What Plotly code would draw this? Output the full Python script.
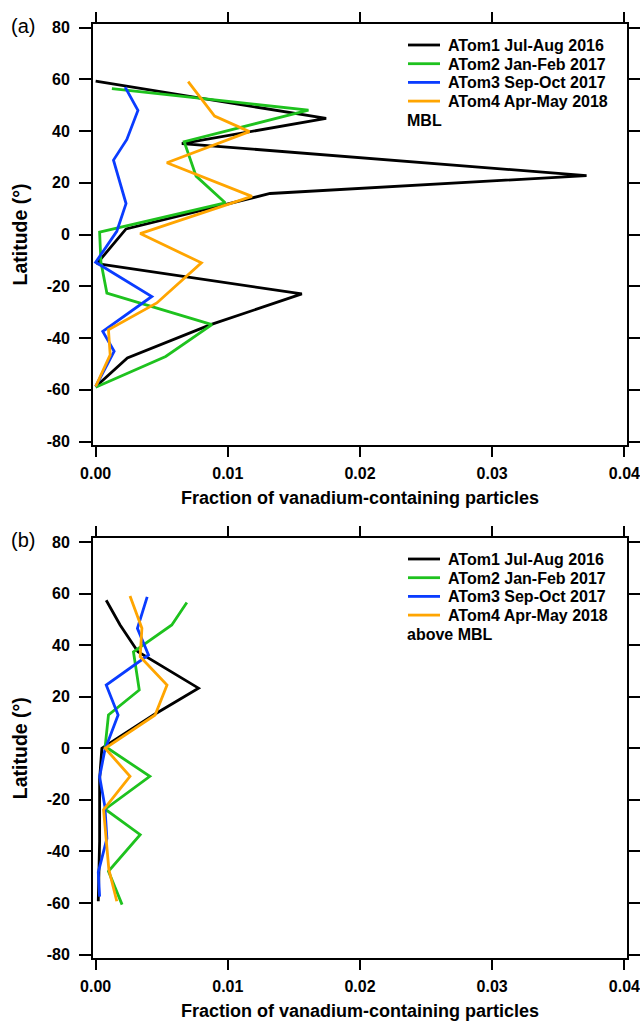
import plotly.graph_objects as go

# ---------------- data ----------------
series_names = ["ATom1 Jul-Aug 2016", "ATom2 Jan-Feb 2017", "ATom3 Sep-Oct 2017", "ATom4 Apr-May 2018"]
series_colors = ["#000000", "#1EC21E", "#0A3CFF", "#FFA500"]

# Panel (a): MBL
mbl_atom1_x = [0.0000, 0.01744, 0.00652, 0.03714, 0.0132, 0.0023, 0.0001, 0.0156, 0.0087, 0.0024, 0.0000]
mbl_atom1_y = [59.3, 44.9, 35.2, 22.8, 15.9, 2.2, -11.2, -22.9, -34.8, -47.7, -58.8]
mbl_atom2_x = [0.00123, 0.0161, 0.0067, 0.0076, 0.0098, 0.0003, 0.0004, 0.00085, 0.0088, 0.0053, 0.0000]
mbl_atom2_y = [56.4, 48.1, 35.9, 22.6, 12.3, 1.0, -10.6, -22.6, -34.8, -47.1, -59.0]
mbl_atom3_x = [0.00223, 0.0032, 0.00236, 0.00135, 0.0023, 0.0016, 0.0000, 0.00425, 0.00054, 0.0014, 0.0000]
mbl_atom3_y = [57.0, 48.0, 36.8, 28.8, 12.0, 1.3, -10.7, -23.9, -37.4, -45.1, -58.7]
mbl_atom4_x = [0.0070, 0.0090, 0.01163, 0.00539, 0.01182, 0.00337, 0.0080, 0.00463, 0.00097, 0.0011, 0.0000]
mbl_atom4_y = [59.1, 45.8, 39.8, 27.8, 14.8, 0.4, -10.9, -26.4, -36.8, -46.5, -58.7]

# Panel (b): above MBL
abv_atom1_x = [0.0008, 0.00185, 0.0032, 0.00778, 0.00437, 0.00047, 0.0003, 0.0003, 0.0002]
abv_atom1_y = [57.4, 47.8, 37.4, 23.3, 12.9, 0.0, -12.0, -36.0, -59.3]
abv_atom2_x = [0.0069, 0.00576, 0.00286, 0.0033, 0.00097, 0.00072, 0.0041, 0.00072, 0.00337, 0.00097, 0.0020]
abv_atom2_y = [56.5, 47.8, 37.4, 22.6, 12.9, 0.7, -10.9, -23.6, -33.5, -47.7, -60.6]
abv_atom3_x = [0.0039, 0.00316, 0.0040, 0.0008, 0.0017, 0.0007, 0.0003, 0.0007, 0.00085, 0.0002, 0.0003]
abv_atom3_y = [58.7, 46.5, 36.2, 24.5, 12.9, -0.6, -11.0, -22.6, -35.0, -48.0, -57.5]
abv_atom4_x = [0.0026, 0.0035, 0.00337, 0.0054, 0.0045, 0.00072, 0.0026, 0.0006, 0.0010, 0.0016]
abv_atom4_y = [59.0, 46.5, 35.5, 24.5, 12.9, 0.0, -10.9, -23.8, -47.0, -59.3]

x_tickvals = [0.00, 0.01, 0.02, 0.03, 0.04]
x_ticktext = ["0.00", "0.01", "0.02", "0.03", "0.04"]
y_tickvals = [80, 60, 40, 20, 0, -20, -40, -60, -80]
y_ticktext = ["80", "60", "40", "20", "0", "-20", "-40", "-60", "-80"]

x_title = "Fraction of vanadium-containing particles"
y_title = "Latitude (°)"
panel_labels = ["(a)", "(b)"]
panel_notes = ["MBL", "above MBL"]

# ---------------- figure ----------------
FONT = "Liberation Sans"
W, H = 640, 1023
ML, MR, MT, MB = 93, 13, 24, 65
PW, PH = W - ML - MR, H - MT - MB

def px2paper_x(px):
    return (px - ML) / PW

def px2paper_y(py):
    return (H - MB - py) / PH

fig = go.Figure()

mbl = [(mbl_atom1_x, mbl_atom1_y), (mbl_atom2_x, mbl_atom2_y), (mbl_atom3_x, mbl_atom3_y), (mbl_atom4_x, mbl_atom4_y)]
abv = [(abv_atom1_x, abv_atom1_y), (abv_atom2_x, abv_atom2_y), (abv_atom3_x, abv_atom3_y), (abv_atom4_x, abv_atom4_y)]

for name, color, (xs, ys) in zip(series_names, series_colors, mbl):
    fig.add_trace(go.Scatter(x=xs, y=ys, mode="lines", name=name, showlegend=False,
                             line=dict(color=color, width=2.8), xaxis="x", yaxis="y"))
for name, color, (xs, ys) in zip(series_names, series_colors, abv):
    fig.add_trace(go.Scatter(x=xs, y=ys, mode="lines", name=name, showlegend=False,
                             line=dict(color=color, width=2.8), xaxis="x2", yaxis="y2"))

tickfont = dict(family=FONT, size=16, color="black", weight="bold")
titlefont = dict(family=FONT, size=18, color="black", weight="bold")

def xax(anchor):
    return dict(anchor=anchor, domain=[0, 1], range=[-0.0002, 0.0402], automargin=False,
                tickvals=x_tickvals, ticktext=x_ticktext, ticklabeloverflow="allow",
                showline=True, linecolor="black", linewidth=2, mirror="allticks",
                ticks="outside", ticklen=10, tickwidth=2, tickcolor="black",
                showgrid=False, zeroline=False, tickfont=tickfont, ticklabelstandoff=3,
                title=dict(text=x_title, font=titlefont, standoff=10))

def yax(anchor, domain):
    return dict(anchor=anchor, domain=domain, range=[-81.3, 81.4], automargin=False,
                tickvals=y_tickvals, ticktext=y_ticktext,
                showline=True, linecolor="black", linewidth=2, mirror="allticks",
                ticks="outside", ticklen=12, tickwidth=2, tickcolor="black",
                showgrid=False, zeroline=False, tickfont=tickfont,
                ticklabelstandoff=6,
                title=dict(text=y_title, font=dict(family=FONT, size=19.5, color="black", weight="bold"),
                           standoff=14))

legfont = dict(family=FONT, size=16, color="black", weight="bold")

shapes = []
annotations = []
panel_top_px = [24.3, 538.3]
for p in range(2):
    off = panel_top_px[p] - panel_top_px[0]
    for i, (name, color) in enumerate(zip(series_names, series_colors)):
        ry = 45 + i * 18.7 + off
        shapes.append(dict(type="line", xref="paper", yref="paper",
                           x0=px2paper_x(408), x1=px2paper_x(440),
                           y0=px2paper_y(ry), y1=px2paper_y(ry),
                           line=dict(color=color, width=2.8)))
        annotations.append(dict(text=name, xref="paper", yref="paper",
                                x=px2paper_x(446), y=px2paper_y(ry + 0.5),
                                xanchor="left", yanchor="middle", showarrow=False, font=legfont))
    annotations.append(dict(text=panel_notes[p], xref="paper", yref="paper",
                            x=px2paper_x(405), y=px2paper_y(120 + off),
                            xanchor="left", yanchor="middle", showarrow=False, font=legfont))
    annotations.append(dict(text=panel_labels[p], xref="paper", yref="paper",
                            x=px2paper_x(23), y=px2paper_y(26 + off),
                            xanchor="center", yanchor="middle", showarrow=False,
                            font=dict(family=FONT, size=20, color="black")))

fig.update_layout(
    width=W, height=H,
    margin=dict(l=ML, r=MR, t=MT, b=MB),
    paper_bgcolor="white", plot_bgcolor="white",
    xaxis=xax("y"), yaxis=yax("x", [px2paper_y(445), 1.0]),
    xaxis2=xax("y2"), yaxis2=yax("x2", [0.0, px2paper_y(538.3)]),
    showlegend=False,
    shapes=shapes,
    annotations=annotations,
)

fig.write_html("out.html", config={"displayModeBar": False},
               post_script="document.body.style.margin='0';document.body.style.overflow='hidden';")
